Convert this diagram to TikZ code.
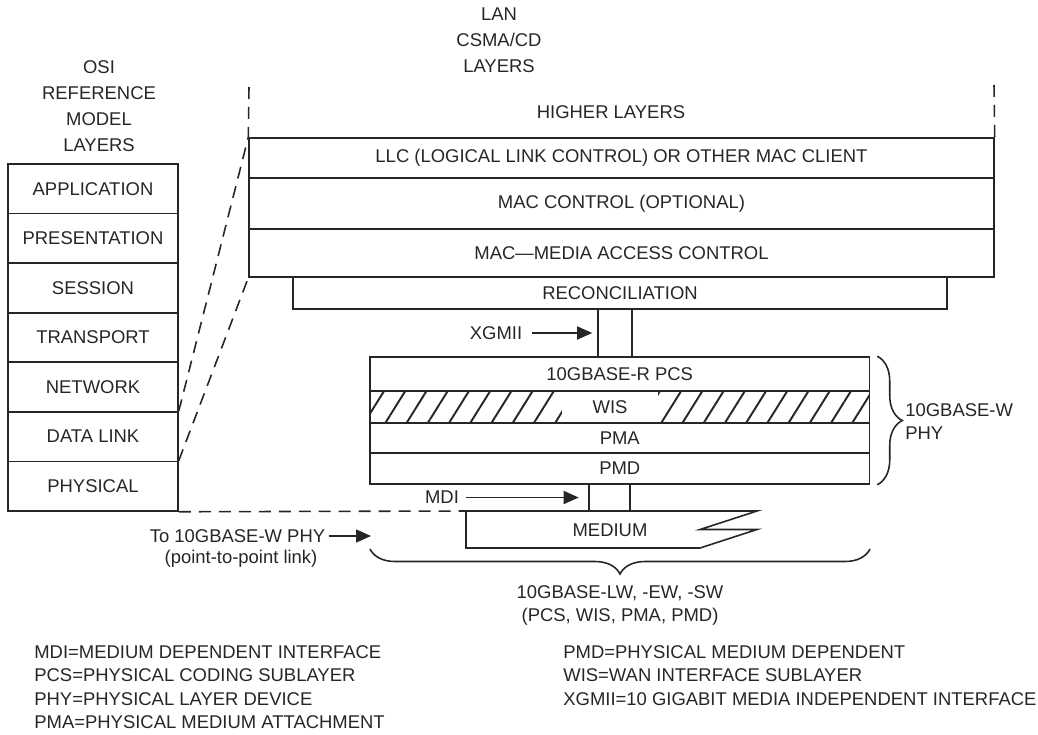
\documentclass[tikz,border=0pt]{standalone}
\usepackage{fontspec}
\setmainfont{Liberation Sans}
\usepackage{tikz}
\usetikzlibrary{arrows.meta,decorations.pathreplacing,patterns.meta}
\definecolor{ink}{RGB}{38,38,38}
\tikzset{
  wire/.style={draw=ink,line width=0.9pt},
  link/.style={wire,dash pattern=on 2.4mm off 1.6mm},
  flow/.style={-{Triangle[length=3mm,width=2.6mm]},draw=ink,line width=0.9pt},
  lab/.style={inner sep=0pt,text=ink,font=\fontsize{10.5}{13}\selectfont},
  layer/.style={lab,draw=ink,line width=0.9pt},
  osi/.style={layer,minimum width=3.4cm,minimum height=0.991cm},
  lan/.style={layer,minimum width=14.9cm},
  phy/.style={layer,minimum width=9.99cm},
  heading/.style={lab,align=center,anchor=north,font=\fontsize{10.5}{14.8}\selectfont},
  keytext/.style={lab,align=left,anchor=north west,font=\fontsize{10.5}{13.2}\selectfont},
  curly/.style={wire,decorate,decoration={brace,amplitude=0.5cm}},
  hatch/.style={pattern={Lines[angle=58,distance=3.6mm,line width=1.1pt]},pattern color=ink},
}

\begin{document}
\begin{tikzpicture}[x=0.02cm,y=-0.02cm]
  \path[use as bounding box] (0,0) rectangle (1038,734);
  \node[heading] (osititle) at (99,60.4) {OSI\\REFERENCE\\MODEL\\LAYERS};
  \node[heading] (lantitle) at (499,7.4) {LAN\\CSMA/CD\\LAYERS};

  \node[osi] (app) at (93,188.8) {APPLICATION};
  \node[osi] (pres) at (93,238.4) {PRESENTATION};
  \node[osi] (sess) at (93,287.9) {SESSION};
  \node[osi] (trans) at (93,337.5) {TRANSPORT};
  \node[osi] (net) at (93,387.1) {NETWORK};
  \node[osi] (dl) at (93,436.6) {DATA LINK};
  \node[osi] (phys) at (93,486.2) {PHYSICAL};

  \node[lab] (higher) at (611,112) {HIGHER LAYERS};
  \node[lan,minimum height=0.8cm] (llc) at (621.5,158) {LLC (LOGICAL LINK CONTROL) OR OTHER MAC CLIENT};
  \node[lan,minimum height=1.02cm] (macctl) at (621.5,203.5) {MAC CONTROL (OPTIONAL)};
  \node[lan,minimum height=0.96cm] (mac) at (621.5,253) {MAC—MEDIA ACCESS CONTROL};
  \node[layer,minimum width=13.08cm,minimum height=0.64cm] (recon) at (620,293) {RECONCILIATION};
  \coordinate (lanedgeL) at (249,87);
  \coordinate (lanedgeR) at (994,85);
  \draw[link] (lanedgeL) -- (llc.north west);
  \draw[link] (lanedgeR) -- (llc.north east);

  \node[layer,minimum width=0.68cm,minimum height=0.96cm] (xgmii) at (615,333) {};
  \node[lab] (xgmiilab) at (496,333) {XGMII};
  \draw[flow,shorten <=2mm,shorten >=1mm] (xgmiilab.east) -- (xgmii.west);

  \node[phy,minimum height=0.68cm] (pcs) at (619.75,374) {10GBASE-R PCS};
  \node[phy,hatch,minimum height=0.64cm] (wis) at (619.75,407) {};
  \node[lab,fill=white,minimum width=1.92cm,minimum height=0.6cm] (wistxt) at (610,407) {WIS};
  \node[phy,minimum height=0.6cm] (pma) at (619.75,438) {PMA};
  \node[phy,minimum height=0.62cm] (pmd) at (619.75,468.5) {PMD};
  \draw[curly] ([xshift=1.4mm]pcs.north east) -- ([xshift=1.4mm]pmd.south east);
  \node[lab,align=left,anchor=north west] (wphy) at (905,403.4) {10GBASE-W\\PHY};

  \node[layer,minimum width=0.82cm,minimum height=0.54cm] (mdi) at (609.5,497.5) {};
  \node[lab] (mdilab) at (442,497.5) {MDI};
  \draw[flow,shorten <=1.4mm,shorten >=1.9mm] (mdilab.east) -- (mdi.west);

  \coordinate (medtl) at (466,511);
  \draw[wire] (medtl) -- (757,511) -- (700,529.5) -- (757,529.5) -- (700,548) -- (466,548) -- cycle;
  \node[lab] (medium) at (610,530) {MEDIUM};

  \draw[link] (dl.north east) -- (llc.north west);
  \draw[link] (phys.north east) -- (mac.south west);
  \draw[link] (phys.south east) -- (medtl);

  \node[lab] (linktxt) at (237.5,536) {To 10GBASE-W PHY};
  \node[lab] (linknote) at (241,559) {(point-to-point link)};
  \coordinate (linkend) at (371,536);
  \draw[flow,shorten <=0.6mm] (linktxt.east) -- (linkend);

  \coordinate (braceR) at (870,549);
  \coordinate (braceL) at (370,549);
  \draw[curly] (braceR) -- (braceL);
  \node[lab,align=center,anchor=north] (variants) at (620,585.4) {10GBASE-LW, -EW, -SW\\(PCS, WIS, PMA, PMD)};

  \node[keytext] (keysL) at (34,645.5)
    {MDI=MEDIUM DEPENDENT INTERFACE\\PCS=PHYSICAL CODING SUBLAYER\\PHY=PHYSICAL LAYER DEVICE\\PMA=PHYSICAL MEDIUM ATTACHMENT};
  \node[keytext] (keysR) at (563,645.5)
    {PMD=PHYSICAL MEDIUM DEPENDENT\\WIS=WAN INTERFACE SUBLAYER\\XGMII=10 GIGABIT MEDIA INDEPENDENT INTERFACE};
\end{tikzpicture}
\end{document}
